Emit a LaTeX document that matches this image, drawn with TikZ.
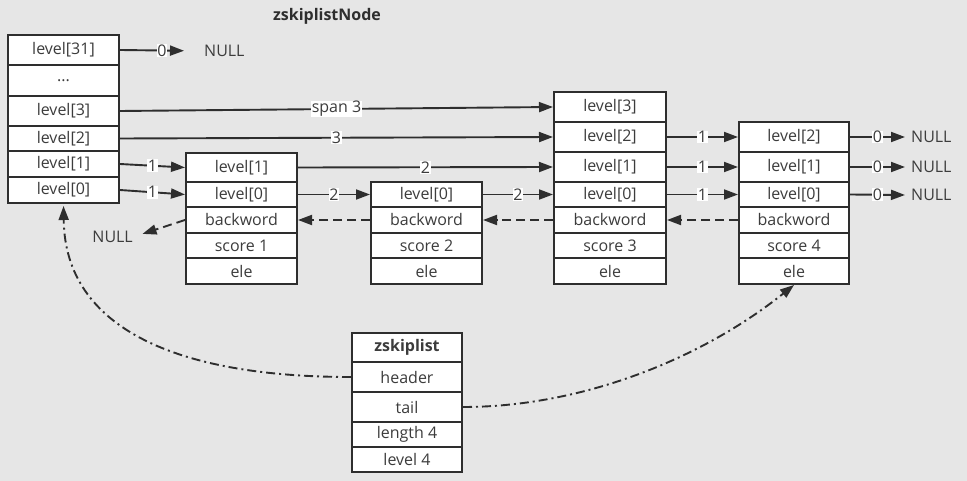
\documentclass[tikz,border=0pt]{standalone}
\usepackage{fontspec}
\setmainfont{Open Sans}
\usetikzlibrary{arrows.meta,calc}
\definecolor{bg}{HTML}{E6E6E6}
\definecolor{ln}{HTML}{2E2E2E}
\definecolor{tx}{HTML}{3C3C3C}
\newcommand{\dfont}{\fontsize{16}{18}\selectfont}
\tikzset{
  cell/.style={draw=ln, line width=2pt, fill=white, text=tx, inner sep=0pt, font=\dfont},
  link/.style={draw=ln, line width=1.9pt, -{Triangle[length=14pt,width=10pt]}},
  lbl/.style={fill=white, inner sep=0.6pt, text=tx, font=\dfont},
  backlink/.style={link, dash pattern=on 9pt off 5pt},
  ptrlink/.style={link, dash pattern=on 9pt off 4pt on 2pt off 4pt},
  txt/.style={text=tx, font=\dfont},
}
\newcommand{\cellbox}[6]{%
  \pgfmathsetmacro{\cbw}{#4-#2}\pgfmathsetmacro{\cbh}{#5-#3}%
  \node[cell, minimum width=\cbw pt, minimum height=\cbh pt] (#1) at ({(#2+#4)/2},{(#3+#5)/2}) {#6};}
\begin{document}
\begin{tikzpicture}[x=1pt,y=-1pt]
\fill[bg] (0,0) rectangle (967,481);
\useasboundingbox (0,0) rectangle (967,481);

\node[text=ln, font=\dfont\bfseries] (title) at (327,16) {zskiplistNode};

% header node
\cellbox{h31}{8}{35}{119}{65}{level[31]}
\cellbox{hd}{8}{65}{119}{96}{...}
\cellbox{h3}{8}{96}{119}{126}{level[3]}
\cellbox{h2}{8}{126}{119}{151}{level[2]}
\cellbox{h1}{8}{151}{119}{177}{level[1]}
\cellbox{h0}{8}{177}{119}{203}{level[0]}

% node 1
\cellbox{a1}{186}{153}{297}{182}{level[1]}
\cellbox{a0}{186}{182}{297}{207}{level[0]}
\cellbox{ab}{186}{207}{297}{233}{backword}
\cellbox{as}{186}{233}{297}{258}{score 1}
\cellbox{ae}{186}{258}{297}{284}{ele}

% node 2
\cellbox{b0}{371}{182}{482}{207}{level[0]}
\cellbox{bb}{371}{207}{482}{233}{backword}
\cellbox{bs}{371}{233}{482}{258}{score 2}
\cellbox{be}{371}{258}{482}{284}{ele}

% node 3
\cellbox{c3}{554}{92}{666}{122}{level[3]}
\cellbox{c2}{554}{122}{666}{152}{level[2]}
\cellbox{c1}{554}{152}{666}{182}{level[1]}
\cellbox{c0}{554}{182}{666}{207}{level[0]}
\cellbox{cb}{554}{207}{666}{233}{backword}
\cellbox{cs}{554}{233}{666}{258}{score 3}
\cellbox{ce}{554}{258}{666}{284}{ele}

% node 4
\cellbox{d2}{739}{122}{849}{152}{level[2]}
\cellbox{d1}{739}{152}{849}{182}{level[1]}
\cellbox{d0}{739}{182}{849}{207}{level[0]}
\cellbox{db}{739}{207}{849}{233}{backword}
\cellbox{ds}{739}{233}{849}{258}{score 4}
\cellbox{de}{739}{258}{849}{284}{ele}

% zskiplist
\cellbox{z}{352}{333}{462}{362}{\bfseries zskiplist}
\cellbox{zh}{352}{362}{462}{392}{header}
\cellbox{zt}{352}{392}{462}{422}{tail}
\cellbox{zl}{352}{422}{462}{447}{length 4}
\cellbox{zv}{352}{447}{462}{472}{level 4}

% NULL texts
\node[txt, anchor=west, inner xsep=0pt] (n31) at (204,51) {NULL};
\node[txt, anchor=west, inner xsep=6pt] (nd2) at (905,137) {NULL};
\node[txt, anchor=west, inner xsep=6pt] (nd1) at (905,167) {NULL};
\node[txt, anchor=west, inner xsep=6pt] (nd0) at (905,195) {NULL};
\node[txt, anchor=east, inner xsep=0pt] (nb) at (133,237) {NULL};

% forward links
\draw[link, shorten >=20pt] (h31.east) -- node[lbl]{0} (n31.west);
\draw[link] (h3.east) -- node[lbl]{span 3} (c3.west);
\draw[link] (h2.east) -- node[lbl]{3} (c2.west);
\draw[link] (h1.east) -- node[lbl]{1} (a1.west);
\draw[link] (h0.east) -- node[lbl]{1} (a0.west);
\draw[link] (a1.east) -- node[lbl]{2} (c1.west);
\draw[link] (a0.east) -- node[lbl]{2} (b0.west);
\draw[link] (b0.east) -- node[lbl]{2} (c0.west);
\draw[link] (c2.east) -- node[lbl]{1} (d2.west);
\draw[link] (c1.east) -- node[lbl]{1} (d1.west);
\draw[link] (c0.east) -- node[lbl]{1} (d0.west);
\draw[link] (d2.east) -- node[lbl]{0} (nd2.west);
\draw[link] (d1.east) -- node[lbl]{0} (nd1.west);
\draw[link] (d0.east) -- node[lbl]{0} (nd0.west);

% backward links
\draw[backlink] (db.west) -- (cb.east);
\draw[backlink] (cb.west) -- (bb.east);
\draw[backlink] (bb.west) -- (ab.east);
\draw[backlink, shorten >=10pt] (ab.west) -- (nb.east);

% header / tail pointers
\draw[ptrlink, shorten >=2pt] (zh.west) .. controls (180,377) and (65,330) .. (h0.south);
\draw[ptrlink] (zt.east) .. controls (580,407) and (700,360) .. (de.south);
\end{tikzpicture}
\end{document}
